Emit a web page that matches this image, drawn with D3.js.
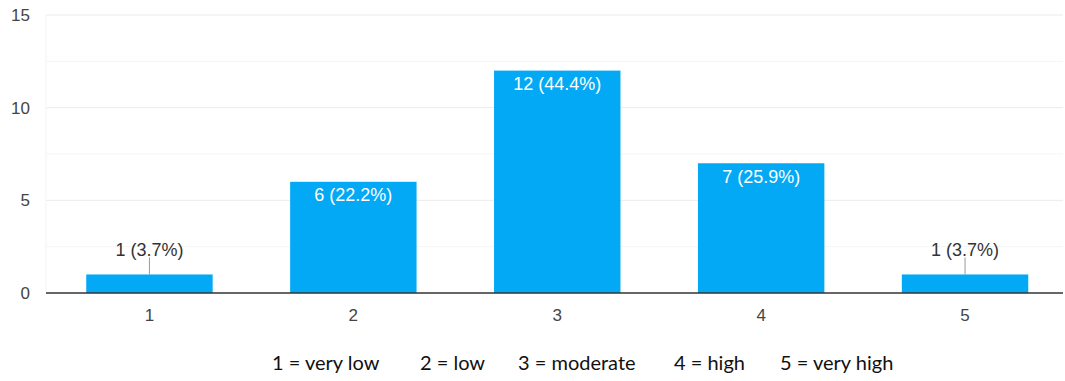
<!DOCTYPE html>
<html><head><meta charset="utf-8">
<script src="https://cdn.jsdelivr.net/npm/d3@7"></script>
<style>body{margin:0;background:#fff}svg{display:block}</style>
</head><body>
<script>
const categories = ["1","2","3","4","5"];
const values = [1, 6, 12, 7, 1];
const labels = ["1 (3.7%)","6 (22.2%)","12 (44.4%)","7 (25.9%)","1 (3.7%)"];
const yTicks = [0, 5, 10, 15];
const minorTicks = [2.5, 7.5, 12.5];
const legendItems = ["1 = very low","2 = low","3 = moderate","4 = high","5 = very high"];

const W = 1065, H = 381;
const svg = d3.select("body").append("svg").attr("width", W).attr("height", H);
const x = d3.scaleBand().domain(categories).range([47.5, 1067]).paddingInner(0.38).paddingOuter(0.19);
const y = d3.scaleLinear().domain([0, 15]).range([293, 15]);
const font = "'Liberation Sans', Arial, sans-serif";

svg.append("g").selectAll("line.minor").data(minorTicks).join("line")
  .attr("x1", 46).attr("x2", 1063).attr("y1", d => y(d)).attr("y2", d => y(d))
  .attr("stroke", "#f5f5f5").attr("stroke-width", 1);
svg.append("g").selectAll("line.major").data(yTicks.filter(d => d > 0)).join("line")
  .attr("x1", 46).attr("x2", 1063).attr("y1", d => y(d)).attr("y2", d => y(d))
  .attr("stroke", "#ebebeb").attr("stroke-width", 1);
svg.append("line").attr("x1", 46).attr("x2", 46).attr("y1", y(15)).attr("y2", y(0))
  .attr("stroke", "#f3f3f3").attr("stroke-width", 1);

svg.append("g").selectAll("text").data(yTicks).join("text")
  .attr("x", 30).attr("y", d => y(d)).attr("dy", "0.36em")
  .attr("text-anchor", "end").attr("font-family", font).attr("font-size", 17)
  .attr("fill", "#444").text(d => d);

svg.append("g").selectAll("rect").data(values).join("rect")
  .attr("x", (d, i) => x(categories[i])).attr("width", x.bandwidth())
  .attr("y", d => y(d)).attr("height", d => y(0) - y(d))
  .attr("fill", "#03a9f4");

svg.append("line").attr("x1", 46).attr("x2", 1063).attr("y1", y(0)).attr("y2", y(0))
  .attr("stroke", "#333").attr("stroke-width", 1.3);

svg.append("g").selectAll("text").data(categories).join("text")
  .attr("x", d => x(d) + x.bandwidth() / 2).attr("y", 321)
  .attr("text-anchor", "middle").attr("font-family", font).attr("font-size", 17)
  .attr("fill", "#444").text(d => d);

const lab = svg.append("g");
values.forEach((v, i) => {
  const cx = x(categories[i]) + x.bandwidth() / 2;
  if (v >= 3) {
    lab.append("text").attr("x", cx).attr("y", y(v) + 19.5).attr("text-anchor", "middle")
      .attr("font-family", font).attr("font-size", 18).attr("fill", "#fff").text(labels[i]);
  } else {
    lab.append("line").attr("x1", cx).attr("x2", cx).attr("y1", y(v) - 17).attr("y2", y(v))
      .attr("stroke", "#999").attr("stroke-width", 1);
    lab.append("text").attr("x", cx).attr("y", y(v) - 18.5).attr("text-anchor", "middle")
      .attr("font-family", font).attr("font-size", 18).attr("fill", "#333").text(labels[i]);
  }
});

const legendX = [272, 420, 518, 674, 780];
svg.append("g").selectAll("text").data(legendItems).join("text")
  .attr("x", (d, i) => legendX[i]).attr("y", 370)
  .attr("font-family", "Lato, 'Source Sans Pro', sans-serif").attr("font-size", 20)
  .attr("fill", "#111").text(d => d);
</script>
</body></html>
